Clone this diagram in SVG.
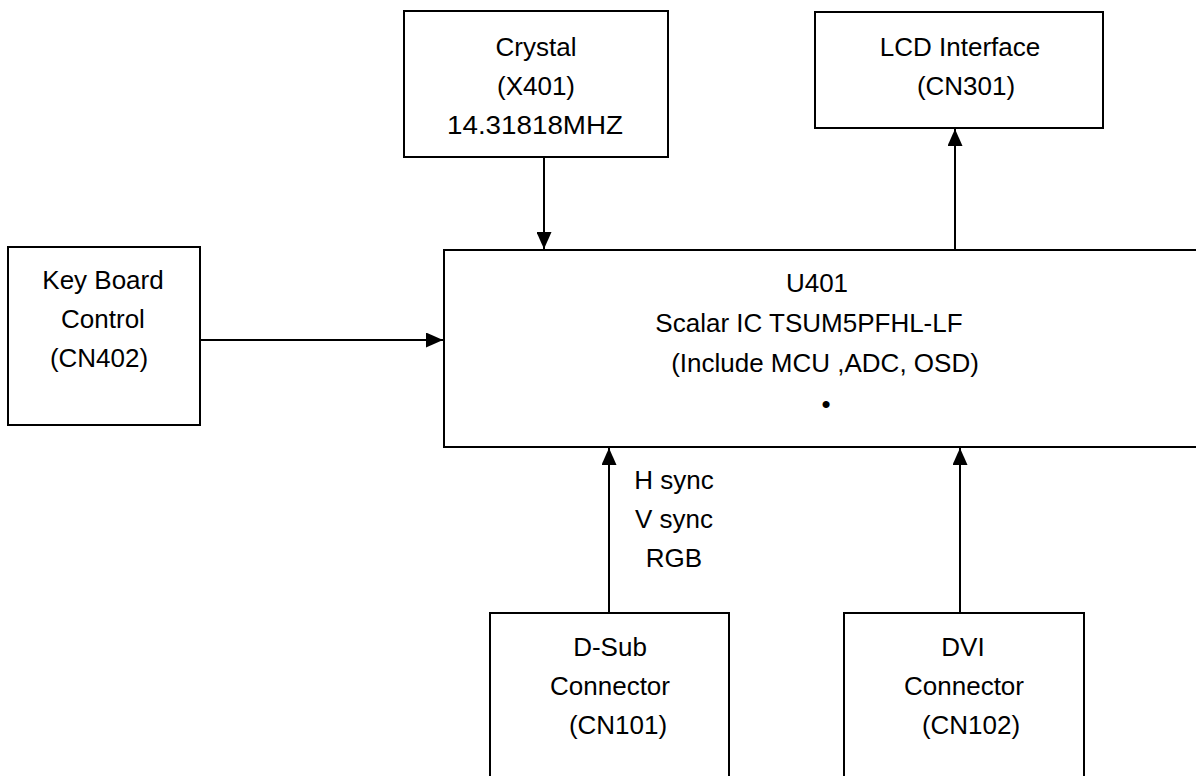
<svg xmlns="http://www.w3.org/2000/svg" width="1196" height="776" viewBox="0 0 1196 776">
<style>
.box{fill:#fff;stroke:#000;stroke-width:2}
.t{font-family:"Liberation Sans",Arial,sans-serif;font-size:26px;fill:#000;text-anchor:middle}
.c{fill:none;stroke:#000;stroke-width:2}
</style>
<defs>
<marker id="ah" markerUnits="userSpaceOnUse" markerWidth="17" markerHeight="15" refX="17" refY="7.5" orient="auto">
<path d="M0,0 L17,7.5 L0,15 z" fill="#000"/>
</marker>
</defs>
<rect width="1196" height="776" fill="#fff"/>
<g id="connectors">
<line class="c" x1="544" y1="157" x2="544" y2="249" marker-end="url(#ah)"/>
<line class="c" x1="955" y1="249" x2="955" y2="129" marker-end="url(#ah)"/>
<line class="c" x1="200" y1="340" x2="443" y2="340" marker-end="url(#ah)"/>
<line class="c" x1="609" y1="613" x2="609" y2="448" marker-end="url(#ah)"/>
<line class="c" x1="960" y1="613" x2="960" y2="448" marker-end="url(#ah)"/>
</g>
<g id="crystal">
<rect class="box" x="404" y="11" width="264" height="146"/>
<text class="t" x="536" y="56">Crystal</text>
<text class="t" x="536" y="95">(X401)</text>
<text class="t" x="535" y="134" textLength="176" lengthAdjust="spacingAndGlyphs">14.31818MHZ</text>
</g>
<g id="lcd">
<rect class="box" x="815" y="12" width="288" height="116"/>
<text class="t" x="960" y="56">LCD Interface</text>
<text class="t" x="966" y="95">(CN301)</text>
</g>
<g id="keyboard">
<rect class="box" x="8" y="247" width="192" height="178"/>
<text class="t" x="103" y="289">Key Board</text>
<text class="t" x="103" y="328">Control</text>
<text class="t" x="99" y="367">(CN402)</text>
</g>
<g id="u401">
<rect class="box" x="444" y="250" width="800" height="197"/>
<text class="t" x="817" y="292">U401</text>
<text class="t" x="809" y="332">Scalar IC TSUM5PFHL-LF</text>
<text class="t" x="825" y="372">(Include MCU ,ADC, OSD)</text>
<text class="t" x="826" y="413">•</text>
</g>
<g id="signals">
<text class="t" x="674" y="489">H sync</text>
<text class="t" x="674" y="528">V sync</text>
<text class="t" x="674" y="567">RGB</text>
</g>
<g id="dsub">
<rect class="box" x="490" y="613" width="239" height="200"/>
<text class="t" x="610" y="656">D-Sub</text>
<text class="t" x="610" y="695">Connector</text>
<text class="t" x="618" y="734">(CN101)</text>
</g>
<g id="dvi">
<rect class="box" x="844" y="613" width="240" height="200"/>
<text class="t" x="963" y="656">DVI</text>
<text class="t" x="964" y="695">Connector</text>
<text class="t" x="971" y="734">(CN102)</text>
</g>
</svg>
